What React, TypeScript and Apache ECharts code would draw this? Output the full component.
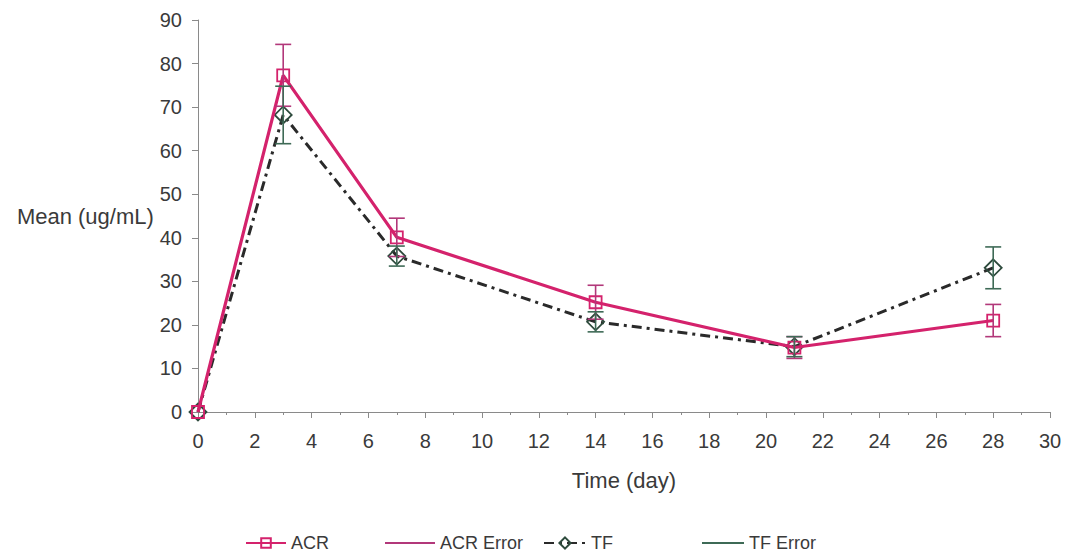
import React, { useEffect, useRef } from "react";
import * as echarts from "echarts";

const days = [0, 3, 7, 14, 21, 28];
const acrMean = [0, 77.3, 40.1, 25.2, 14.8, 21.0];
const acrErr = [0, 7.1, 4.4, 3.9, 2.5, 3.7];
const tfMean = [0, 68.2, 35.8, 20.7, 15.0, 33.1];
const tfErr = [0, 6.6, 2.3, 2.3, 2.3, 4.8];

const xTicks = [0, 2, 4, 6, 8, 10, 12, 14, 16, 18, 20, 22, 24, 26, 28, 30];
const yTicks = [0, 10, 20, 30, 40, 50, 60, 70, 80, 90];

const ACR_COLOR = "#d4226c";
const ACR_ERR_COLOR = "#b2387a";
const TF_COLOR = "#2a2a2a";
const TF_MARK = "#2d4a3c";
const TF_ERR_COLOR = "#3e6a56";
const FONT = "'Liberation Sans', Arial, sans-serif";
const TEXT_COLOR = "#3a3a3a";

function errorSeries(name: string, means: number[], errs: number[], color: string) {
  const data = days
    .map((d, i) => [d, means[i] - errs[i], means[i] + errs[i]])
    .filter((_, i) => errs[i] > 0);
  return {
    name,
    type: "custom",
    itemStyle: { color },
    encode: { x: 0, y: [1, 2] },
    data,
    z: 5,
    renderItem: (params: any, api: any) => {
      const x = api.value(0);
      const lo = api.value(1);
      const hi = api.value(2);
      const pHi = api.coord([x, hi]);
      const pLo = api.coord([x, lo]);
      const w = 8;
      const style = { stroke: color, lineWidth: 1.6 };
      return {
        type: "group",
        children: [
          { type: "line", shape: { x1: pHi[0], y1: pHi[1], x2: pLo[0], y2: pLo[1] }, style },
          { type: "line", shape: { x1: pHi[0] - w, y1: pHi[1], x2: pHi[0] + w, y2: pHi[1] }, style },
          { type: "line", shape: { x1: pLo[0] - w, y1: pLo[1], x2: pLo[0] + w, y2: pLo[1] }, style },
        ],
      };
    },
  };
}

export default function App() {
  const ref = useRef<HTMLDivElement>(null);
  useEffect(() => {
    if (!ref.current) return;
    const chart = echarts.init(ref.current, undefined, { renderer: "svg" });
    const legendText = { fontFamily: FONT, fontSize: 18, color: TEXT_COLOR };
    const legendTop = 529;
    chart.setOption({
      animation: false,
      backgroundColor: "#fff",
      textStyle: { fontFamily: FONT },
      grid: { left: 198, right: 21, top: 20, bottom: 146, containLabel: false },
      xAxis: {
        type: "value",
        min: 0,
        max: 30,
        interval: 2,
        name: "Time (day)",
        nameLocation: "middle",
        nameGap: 57,
        nameTextStyle: { fontFamily: FONT, fontSize: 22, color: TEXT_COLOR },
        axisLine: { show: true, onZero: false, lineStyle: { color: "#8a8a8a", width: 1 } },
        axisTick: { show: true, length: 6, lineStyle: { color: "#8a8a8a" } },
        minorTick: { show: true, splitNumber: 2, length: 3, lineStyle: { color: "#8a8a8a" } },
        splitLine: { show: false },
        axisLabel: {
          margin: 19,
          fontFamily: FONT,
          fontSize: 20,
          color: TEXT_COLOR,
          formatter: (v: number) => (xTicks.includes(v) ? String(v) : ""),
        },
      },
      yAxis: {
        type: "value",
        min: 0,
        max: 90,
        interval: 10,
        name: "Mean (ug/mL)",
        nameLocation: "middle",
        nameRotate: 0,
        nameGap: 42,
        nameTextStyle: { fontFamily: FONT, fontSize: 22, color: TEXT_COLOR, align: "right", padding: [8, 0, 0, 0] },
        axisLine: { show: true, lineStyle: { color: "#8a8a8a", width: 1 } },
        axisTick: { show: true, length: 6, lineStyle: { color: "#8a8a8a" } },
        splitLine: { show: false },
        axisLabel: {
          margin: 16,
          fontFamily: FONT,
          fontSize: 20,
          color: TEXT_COLOR,
          formatter: (v: number) => (yTicks.includes(v) ? String(v) : ""),
        },
      },
      legend: [
        {
          left: 240,
          top: legendTop,
          itemWidth: 40,
          itemHeight: 12,
          itemGap: 10,
          textStyle: legendText,
          data: ["ACR"],
        },
        {
          left: 380,
          top: legendTop,
          itemWidth: 50,
          itemHeight: 2,
          textStyle: legendText,
          data: [{ name: "ACR Error", icon: "rect", itemStyle: { color: ACR_ERR_COLOR } }],
        },
        {
          left: 538,
          top: legendTop,
          itemWidth: 42,
          itemHeight: 14,
          textStyle: legendText,
          data: ["TF"],
        },
        {
          left: 697,
          top: legendTop,
          itemWidth: 42,
          itemHeight: 2,
          textStyle: legendText,
          data: [{ name: "TF Error", icon: "rect", itemStyle: { color: TF_ERR_COLOR } }],
        },
      ],
      series: [
        {
          name: "ACR",
          type: "line",
          data: days.map((d, i) => [d, acrMean[i]]),
          symbol: "rect",
          symbolSize: 12,
          showAllSymbol: true,
          lineStyle: { color: ACR_COLOR, width: 3.2 },
          itemStyle: { color: "rgba(255,255,255,0)", borderColor: ACR_COLOR, borderWidth: 1.8 },
          z: 4,
        },
        errorSeries("ACR Error", acrMean, acrErr, ACR_ERR_COLOR),
        {
          name: "TF",
          type: "line",
          data: days.map((d, i) => [d, tfMean[i]]),
          symbol: "diamond",
          symbolSize: 17,
          showAllSymbol: true,
          lineStyle: { color: TF_COLOR, width: 3, type: [10, 5, 3, 5] },
          itemStyle: { color: "rgba(255,255,255,0)", borderColor: TF_MARK, borderWidth: 1.8 },
          z: 3,
        },
        errorSeries("TF Error", tfMean, tfErr, TF_ERR_COLOR),
      ],
    });
    return () => chart.dispose();
  }, []);
  return (
    <div
      ref={ref}
      style={{ position: "fixed", left: 0, top: 0, width: 1071, height: 558, background: "#fff" }}
    />
  );
}
